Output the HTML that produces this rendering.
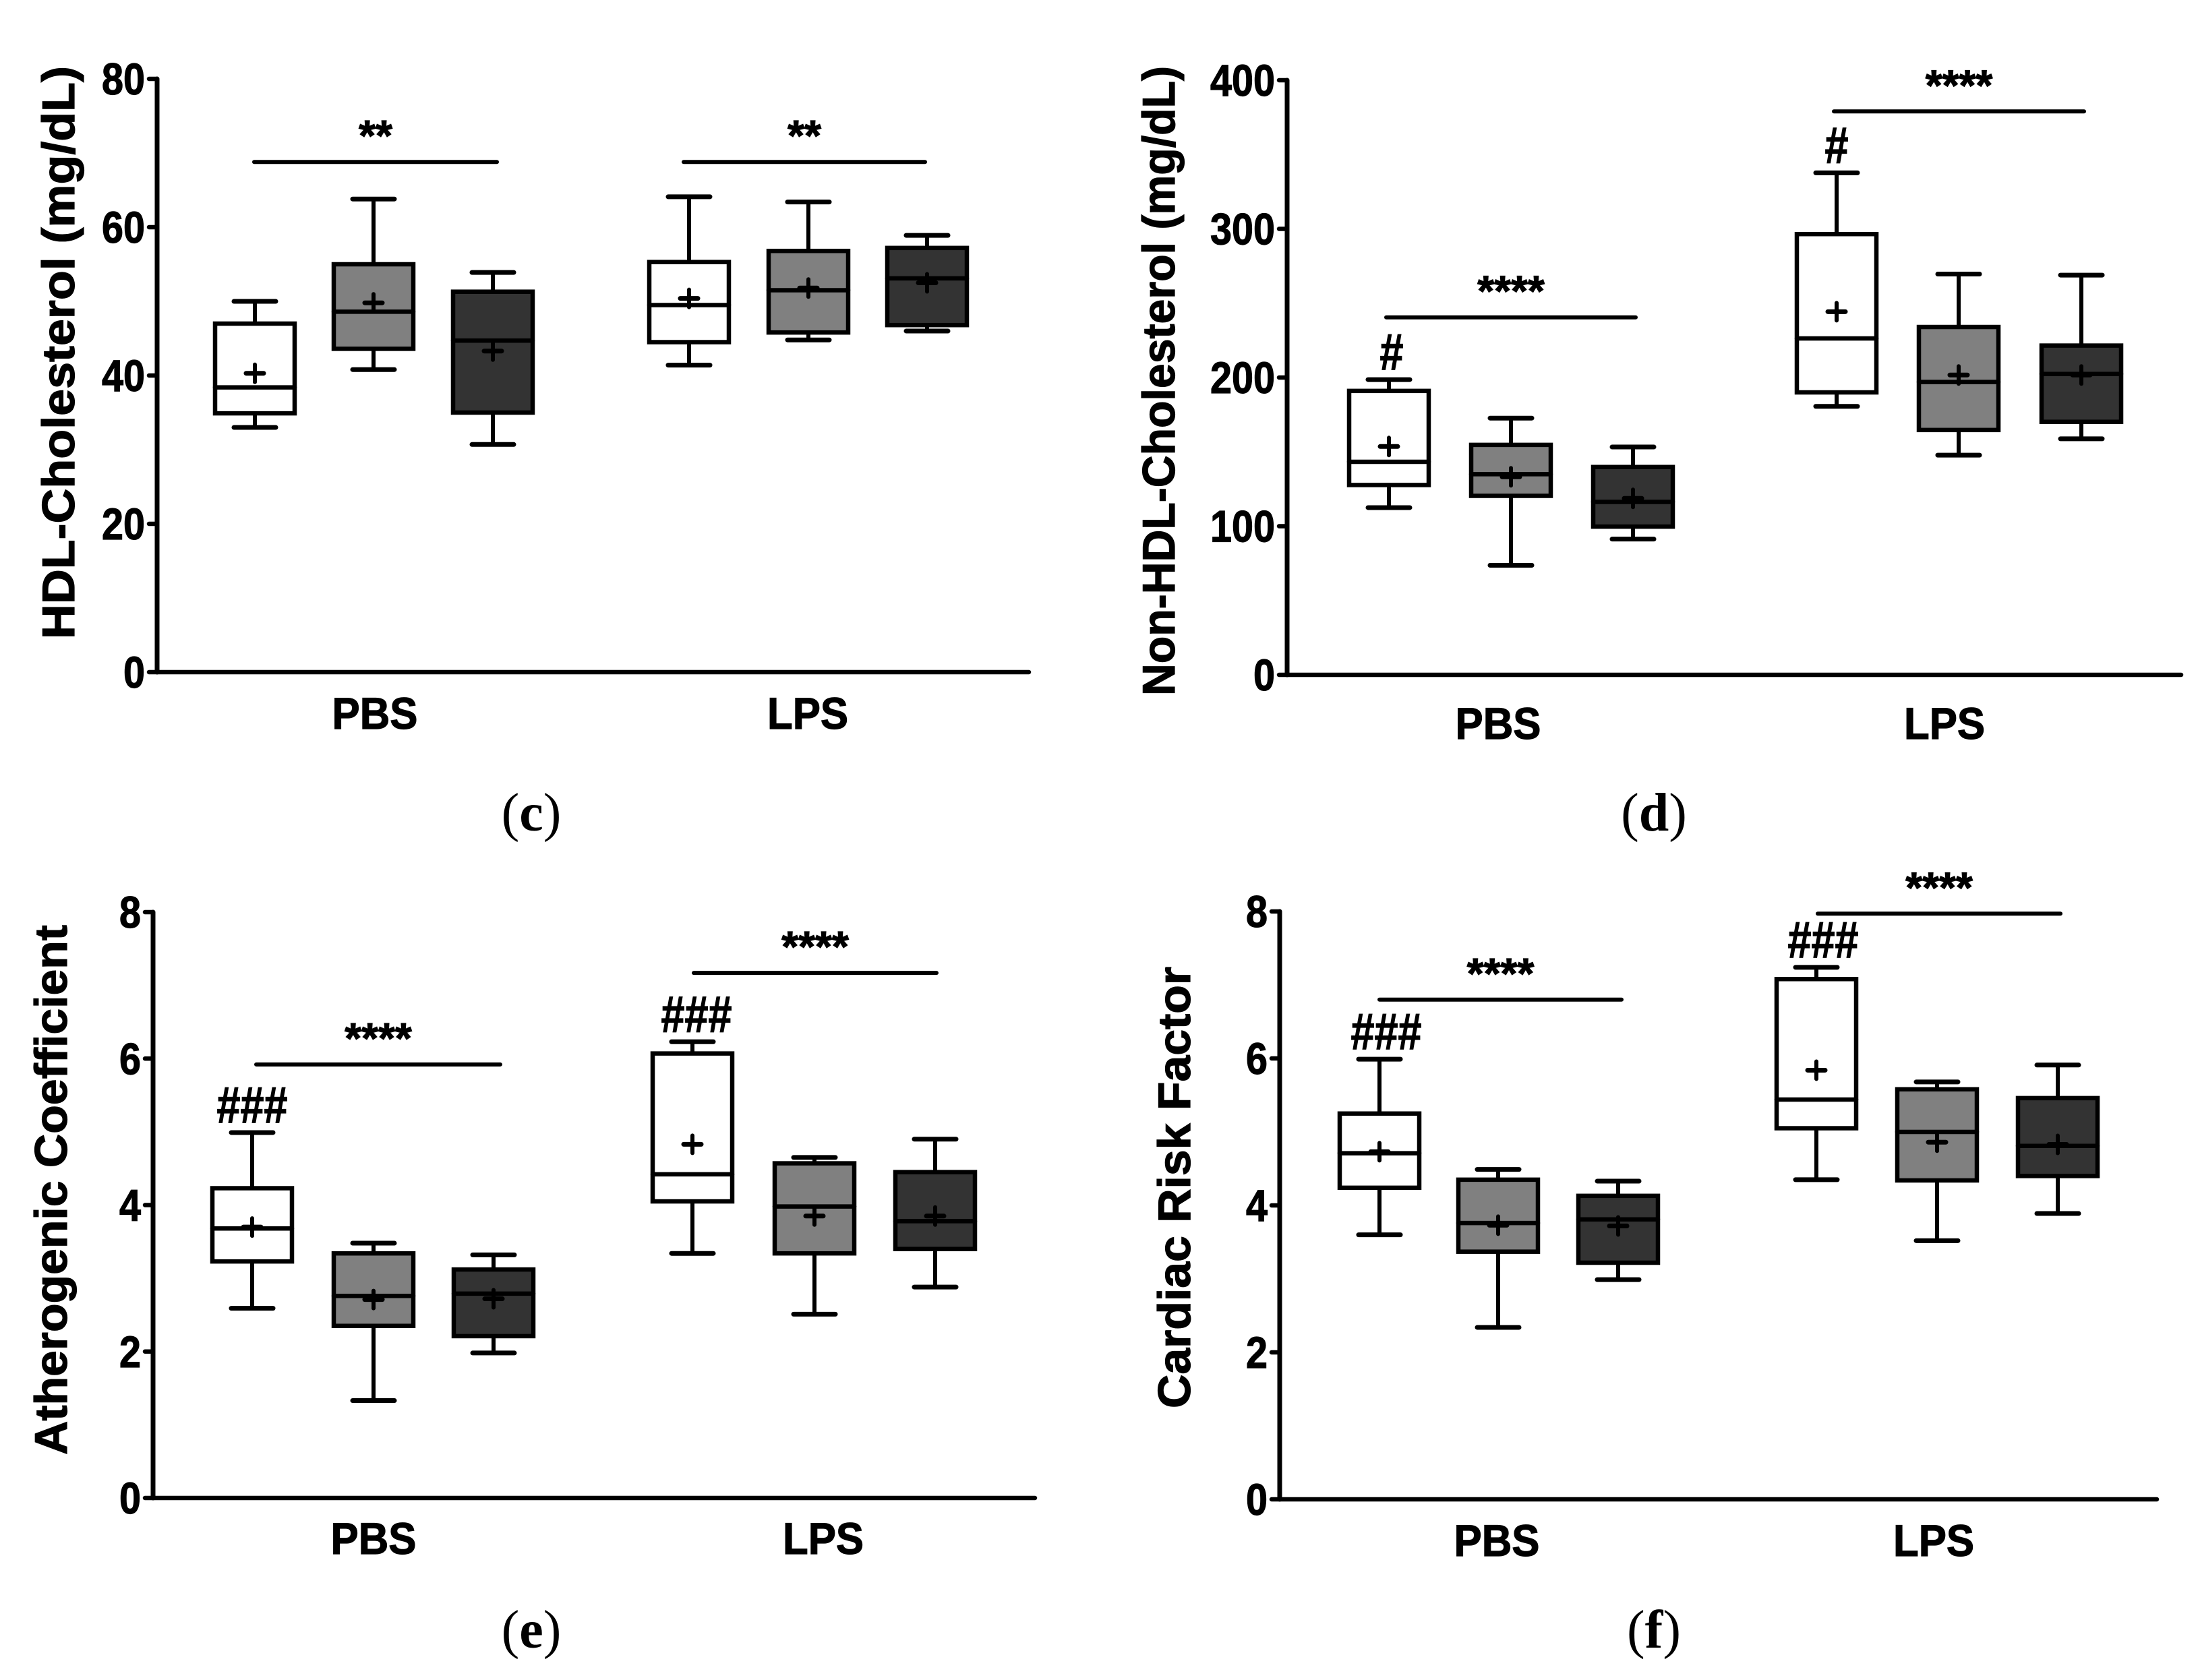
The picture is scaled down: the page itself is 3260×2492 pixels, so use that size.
<!DOCTYPE html>
<html lang="en">
<head>
<meta charset="utf-8">
<title>Cholesterol box plots</title>
<style>
  html, body { margin: 0; padding: 0; background: #fff; }
  #figure { display: block; width: 3260px; height: 2492px; background: #fff; }
  text { font-family: "Liberation Sans", Arial, sans-serif; font-weight: bold; fill: #000; stroke: #000; stroke-width: 1.2px; }
  .caption { font-family: "Liberation Serif", serif; font-weight: normal; font-size: 80px; stroke: none; }
  .caption tspan { font-weight: bold; }
</style>
</head>
<body>
<svg id="figure" xmlns="http://www.w3.org/2000/svg" width="3260" height="2492" viewBox="0 0 3260 2492"></svg>
<script>
// Shared categories
const groupLabels = ['PBS', 'LPS'];

// Panel c: HDL-Cholesterol
const hdlTicks = [0, 20, 40, 60, 80];
const hdlMax = [50, 63.8, 53.9, 64.1, 63.4, 58.9];
const hdlQ3 = [47, 55, 51.3, 55.3, 56.8, 57.2];
const hdlMedian = [38.4, 48.6, 44.7, 49.5, 51.5, 53.1];
const hdlQ1 = [34.9, 43.6, 35, 44.5, 45.8, 46.8];
const hdlMin = [33, 40.8, 30.7, 41.4, 44.8, 46];
const hdlMean = [40.3, 49.8, 43.3, 50.4, 51.8, 52.5];
const hdlSigLevels = [68.8, 68.8];
const hdlSigLabels = ['**', '**'];
const hdlHashes = ['', ''];

// Panel d: Non-HDL-Cholesterol
const nonHdlTicks = [0, 100, 200, 300, 400];
const nonHdlMax = [198.6, 172.7, 153.3, 337.7, 269.6, 268.9];
const nonHdlQ3 = [191, 154.7, 139.8, 296.5, 234, 221.5];
const nonHdlMedian = [143.3, 135, 116.3, 226.3, 197, 202.4];
const nonHdlQ1 = [127.7, 120.4, 99.7, 190, 164.7, 170.2];
const nonHdlMin = [112.5, 73.7, 91.3, 180.6, 147.8, 158.8];
const nonHdlMean = [153.6, 133.2, 118.7, 244.3, 201.7, 201.7];
const nonHdlSigLevels = [240.5, 379];
const nonHdlSigLabels = ['****', '****'];
const nonHdlHashes = ['#', '#'];

// Panel e: Atherogenic Coefficient
const athTicks = [0, 2, 4, 6, 8];
const athMax = [4.99, 3.48, 3.32, 6.23, 4.65, 4.9];
const athQ3 = [4.23, 3.34, 3.12, 6.07, 4.57, 4.45];
const athMedian = [3.68, 2.76, 2.79, 4.42, 3.98, 3.78];
const athQ1 = [3.23, 2.35, 2.21, 4.05, 3.34, 3.4];
const athMin = [2.59, 1.33, 1.98, 3.34, 2.51, 2.88];
const athMean = [3.7, 2.71, 2.72, 4.83, 3.85, 3.85];
const athSigLevels = [5.92, 7.17];
const athSigLabels = ['****', '****'];
const athHashes = ['###', '###'];

// Panel f: Cardiac Risk Factor
const crfTicks = [0, 2, 4, 6, 8];
const crfMax = [5.99, 4.49, 4.33, 7.24, 5.68, 5.91];
const crfQ3 = [5.25, 4.35, 4.13, 7.08, 5.58, 5.46];
const crfMedian = [4.71, 3.76, 3.81, 5.44, 5, 4.81];
const crfQ1 = [4.24, 3.37, 3.22, 5.05, 4.34, 4.4];
const crfMin = [3.6, 2.34, 2.99, 4.35, 3.52, 3.89];
const crfMean = [4.73, 3.73, 3.72, 5.84, 4.86, 4.83];
const crfSigLevels = [6.8, 7.97];
const crfSigLabels = ['****', '****'];
const crfHashes = ['###', '###'];

const boxFills = ['#ffffff', '#808080', '#333333'];
const svgNS = 'http://www.w3.org/2000/svg';
const root = document.getElementById('figure');

function mark(tag, attrs, parent, name) {
  const el = document.createElementNS(svgNS, tag);
  for (const k in attrs) el.setAttribute(k, attrs[k]);
  
  
  parent.appendChild(el);
  return el;
}
function line(parent, name, x1, y1, x2, y2, w) {
  return mark('line', { x1: x1, y1: y1, x2: x2, y2: y2, stroke: '#000', 'stroke-width': w, 'stroke-linecap': 'round' }, parent, name);
}
function label(parent, name, str, attrs) {
  const el = mark('text', attrs, parent, name);
  el.textContent = str;
  return el;
}

function drawPanel(p) {
  const g = mark('g', {}, root, 'panel-' + p.id);
  const yMax = p.ticks[p.ticks.length - 1];
  const yScale = v => p.y0 - (v / yMax) * (p.y0 - p.yTop);

  // axes
  line(g, 'y-axis', p.axisX, p.yTop, p.axisX, p.y0, 7);
  line(g, 'x-axis', p.axisX - 12, p.y0, p.xEnd, p.y0, 6.5);
  p.ticks.forEach(t => {
    const y = yScale(t);
    if (t !== 0) line(g, 'y-tick-' + t, p.axisX - 12, y, p.axisX, y, 6.5);
    const txt = String(t);
    label(g, 'y-tick-label-' + t, txt, {
      x: p.axisX - 18, y: y + 23, 'text-anchor': 'end', 'font-size': 66,
      textLength: txt.length * 32, lengthAdjust: 'spacingAndGlyphs'
    });
  });

  // axis title
  const tCy = (p.titleTop + p.titleBottom) / 2;
  label(g, 'y-axis-title', p.title, {
    transform: 'translate(' + p.titleX + ',' + tCy + ') rotate(-90)',
    'text-anchor': 'middle', 'font-size': 68,
    textLength: p.titleBottom - p.titleTop, lengthAdjust: 'spacingAndGlyphs'
  });

  // boxes
  p.centers.forEach((cx, i) => {
    const name = groupLabels[i < 3 ? 0 : 1].toLowerCase() + '-box-' + (i % 3 + 1);
    const b = mark('g', {}, g, name);
    const hw = 59, cap = 31;
    line(b, 'whisker', cx, yScale(p.max[i]), cx, yScale(p.min[i]), 6);
    line(b, 'whisker-cap-top', cx - cap, yScale(p.max[i]), cx + cap, yScale(p.max[i]), 7);
    line(b, 'whisker-cap-bottom', cx - cap, yScale(p.min[i]), cx + cap, yScale(p.min[i]), 7);
    mark('rect', {
      x: cx - hw, y: yScale(p.q3[i]), width: hw * 2, height: yScale(p.q1[i]) - yScale(p.q3[i]),
      fill: boxFills[i % 3], stroke: '#000', 'stroke-width': 6.5
    }, b, 'box');
    line(b, 'median', cx - hw, yScale(p.median[i]), cx + hw, yScale(p.median[i]), 6.5);
    const my = yScale(p.mean[i]);
    line(b, 'mean-plus-horizontal', cx - 13, my, cx + 13, my, 7);
    line(b, 'mean-plus-vertical', cx, my - 13, cx, my + 13, 6);
  });

  // significance bars, stars and hashes
  [0, 1].forEach(k => {
    const c0 = p.centers[k * 3];
    const sy = yScale(p.sigLevels[k]);
    const x1 = p.sigSpans[k][0], x2 = p.sigSpans[k][1];
    line(g, 'significance-bar-' + groupLabels[k].toLowerCase(), x1, sy, x2, sy, 6);
    const stars = p.sigLabels[k];
    label(g, 'significance-stars-' + groupLabels[k].toLowerCase(), stars, {
      x: (x1 + x2) / 2, y: sy - 17, 'text-anchor': 'middle', 'font-size': 64
    });
    const hash = p.hashes[k];
    if (hash) {
      const ty = yScale(p.max[k * 3]);
      label(g, 'hash-marker-' + groupLabels[k].toLowerCase(), hash, {
        x: c0 + p.hashDx[k], y: ty - 15, 'text-anchor': 'middle', 'font-size': 76, 'stroke-width': 1.5,
        textLength: hash.length * 35, lengthAdjust: 'spacingAndGlyphs'
      });
    }
    label(g, 'group-label-' + groupLabels[k].toLowerCase(), groupLabels[k], {
      x: p.groupX[k], y: p.groupY + 24, 'text-anchor': 'middle', 'font-size': 66,
      textLength: k === 0 ? 127 : 120, lengthAdjust: 'spacingAndGlyphs'
    });
  });

  // caption
  const cap = mark('text', { x: p.captionX, y: p.captionY + 20, 'text-anchor': 'middle', class: 'caption' }, g, 'panel-caption');
  cap.appendChild(document.createTextNode('('));
  const ts = document.createElementNS(svgNS, 'tspan');
  ts.textContent = p.id;
  cap.appendChild(ts);
  cap.appendChild(document.createTextNode(')'));
}

drawPanel({
  id: 'c', title: 'HDL-Cholesterol (mg/dL)',
  ticks: hdlTicks, max: hdlMax, q3: hdlQ3, median: hdlMedian, q1: hdlQ1, min: hdlMin, mean: hdlMean,
  sigLevels: hdlSigLevels, sigLabels: hdlSigLabels, hashes: hdlHashes,
  axisX: 233, y0: 997, yTop: 117, xEnd: 1526,
  centers: [378, 554, 731, 1022, 1199, 1375],
  sigSpans: [[377, 737], [1014, 1372]], hashDx: [0, 0],
  titleX: 110, titleTop: 98, titleBottom: 948,
  groupX: [556, 1198], groupY: 1057, captionX: 788, captionY: 1212
});
drawPanel({
  id: 'd', title: 'Non-HDL-Cholesterol (mg/dL)',
  ticks: nonHdlTicks, max: nonHdlMax, q3: nonHdlQ3, median: nonHdlMedian, q1: nonHdlQ1, min: nonHdlMin, mean: nonHdlMean,
  sigLevels: nonHdlSigLevels, sigLabels: nonHdlSigLabels, hashes: nonHdlHashes,
  axisX: 1909, y0: 1001, yTop: 119, xEnd: 3235,
  centers: [2060, 2241, 2422, 2724, 2905, 3087],
  sigSpans: [[2056, 2426], [2720, 3091]], hashDx: [4, 0],
  titleX: 1742, titleTop: 98, titleBottom: 1032,
  groupX: [2222, 2884], groupY: 1072, captionX: 2453, captionY: 1212
});
drawPanel({
  id: 'e', title: 'Atherogenic Coefficient',
  ticks: athTicks, max: athMax, q3: athQ3, median: athMedian, q1: athQ1, min: athMin, mean: athMean,
  sigLevels: athSigLevels, sigLabels: athSigLabels, hashes: athHashes,
  axisX: 227, y0: 2222, yTop: 1353, xEnd: 1535,
  centers: [374, 554, 732, 1027, 1208, 1387],
  sigSpans: [[380, 742], [1029, 1389]], hashDx: [0, 6],
  titleX: 99, titleTop: 1372, titleBottom: 2158,
  groupX: [554, 1221], groupY: 2281, captionX: 788, captionY: 2424
});
drawPanel({
  id: 'f', title: 'Cardiac Risk Factor',
  ticks: crfTicks, max: crfMax, q3: crfQ3, median: crfMedian, q1: crfQ1, min: crfMin, mean: crfMean,
  sigLevels: crfSigLevels, sigLabels: crfSigLabels, hashes: crfHashes,
  axisX: 1898, y0: 2224, yTop: 1352, xEnd: 3199,
  centers: [2046, 2222, 2400, 2694, 2873, 3052],
  sigSpans: [[2046, 2405], [2696, 3056]], hashDx: [10, 10],
  titleX: 1765, titleTop: 1434, titleBottom: 2089,
  groupX: [2220, 2868], groupY: 2284, captionX: 2453, captionY: 2424
});
</script>
</body>
</html>
